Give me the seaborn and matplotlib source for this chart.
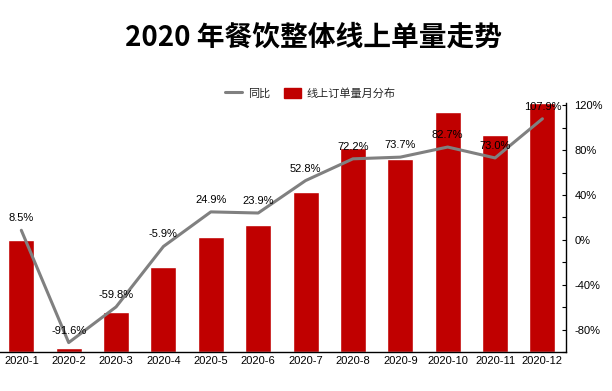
import numpy as np
import pandas as pd
import matplotlib
matplotlib.use("Agg")
import matplotlib.pyplot as plt
from matplotlib.patches import Patch
from matplotlib.lines import Line2D
from matplotlib.ticker import FuncFormatter, MultipleLocator
import seaborn as sns

# 数据
months = ["2020-1", "2020-2", "2020-3", "2020-4", "2020-5", "2020-6",
          "2020-7", "2020-8", "2020-9", "2020-10", "2020-11", "2020-12"]
# 线上订单量月分布（相对指数，按柱高估读）
orders = [112, 4, 40, 85, 115, 127, 160, 204, 193, 240, 217, 249]
# 同比（%）
yoy = [8.5, -91.6, -59.8, -5.9, 24.9, 23.9, 52.8, 72.2, 73.7, 82.7, 73.0, 107.9]

BAR_RED = "#C00000"
LINE_GREY = "#808080"

sns.set_theme(style="white")
plt.rcParams["font.family"] = ["Liberation Sans", "Noto Sans CJK SC", "DejaVu Sans"]
cjk = ["Noto Sans CJK SC", "DejaVu Sans"]

df = pd.DataFrame({"month": months, "orders": orders, "yoy": yoy})

fig = plt.figure(figsize=(6.12, 3.91), dpi=100)
ax = fig.add_axes([0.0, 0.0997, 0.925, 0.637])

sns.barplot(data=df, x="month", y="orders", color=BAR_RED, width=0.55,
            saturation=1, ax=ax)
ax.set_ylim(0, 249)
ax.set_xlim(-0.45, 11.5)
ax.set_xlabel("")
ax.set_ylabel("")
ax.set_yticks([])
for s in ["left", "top", "right"]:
    ax.spines[s].set_visible(False)
ax.spines["bottom"].set_color("black")
ax.spines["bottom"].set_linewidth(1.0)
ax.tick_params(axis="x", labelsize=8, colors="black", length=0, pad=3)

ax2 = ax.twinx()
sns.lineplot(x=np.arange(len(months)), y=df["yoy"], color=LINE_GREY,
             linewidth=2.2, ax=ax2)
ax2.set_ylim(-100, 122)
ax2.set_ylabel("")
ax2.yaxis.set_major_locator(MultipleLocator(20))
ax2.yaxis.set_major_formatter(
    FuncFormatter(lambda v, p: f"{v:.0f}%" if round(v) % 40 == 0 and v <= 120 else ""))
for s in ["left", "top", "bottom"]:
    ax2.spines[s].set_visible(False)
ax2.spines["right"].set_visible(True)
ax2.spines["right"].set_color("black")
ax2.spines["right"].set_linewidth(1.0)
ax2.tick_params(axis="y", direction="in", length=3, width=0.8, labelsize=8,
                colors="black", pad=6, right=True)
ax2.grid(False)
ax.grid(False)

for i, v in enumerate(yoy):
    ax2.annotate(f"{v:.1f}%", (i, v), xytext=(0, 5), textcoords="offset points",
                 ha="center", va="bottom", fontsize=8, color="black")

fig.text(0.513, 0.905, "2020 年餐饮整体线上单量走势", ha="center", va="center",
         fontsize=20, fontweight="bold", family=cjk, color="black")

handles = [Line2D([0], [0], color=LINE_GREY, linewidth=2.2),
           Patch(facecolor=BAR_RED, edgecolor=BAR_RED)]
fig.legend(handles, ["同比", "线上订单量月分布"], loc="center",
           bbox_to_anchor=(0.507, 0.762), ncol=2, frameon=False,
           prop={"family": cjk, "size": 8}, handlelength=1.6,
           handleheight=1.0, columnspacing=1.2, handletextpad=0.5)

fig.savefig("out.png", dpi=100, facecolor="white")
